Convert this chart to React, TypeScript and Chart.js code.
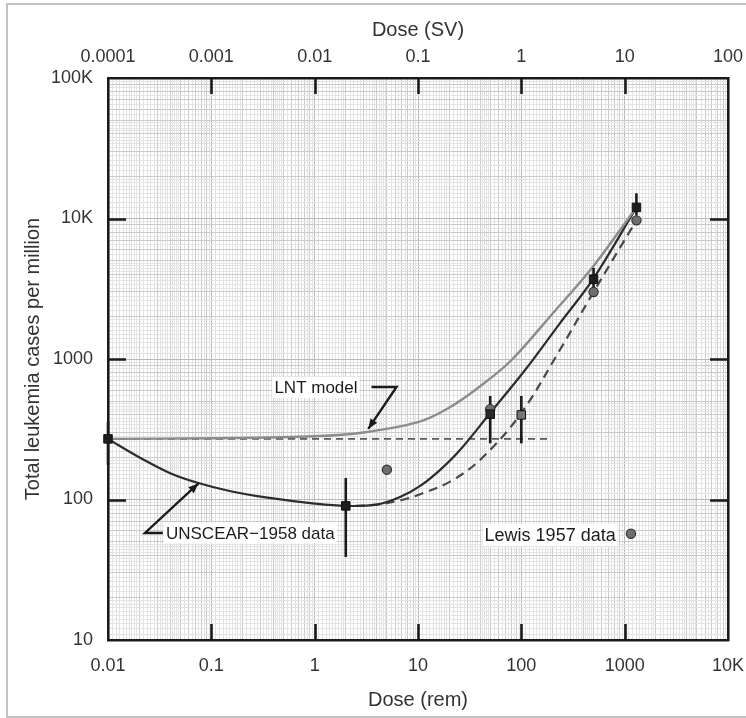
import React, { useEffect, useRef } from "react";
import { Chart, registerables } from "chart.js";

Chart.register(...registerables);

// ---------- data ----------
const lntX = [0.01, 0.1, 1, 3, 10, 20, 40, 80, 200, 500, 1300];
const lntY = [270, 273, 282, 300, 355, 450, 640, 980, 2100, 4600, 12000];

const fitX = [0.01, 0.02, 0.04, 0.075, 0.15, 0.35, 1, 2, 4, 6.7, 10.5, 16.3, 25.5, 50, 108.7, 236, 500, 1300];
const fitY = [270, 200, 154, 131, 115, 103, 93.5, 90, 92, 104, 125, 162, 225, 413, 835, 1795, 3750, 12000];

const dashX = [2.5, 4, 6.7, 10.5, 20.4, 39.8, 97, 236, 500, 1300];
const dashY = [90, 92, 98.4, 109, 134, 191, 400, 1160, 3000, 9700];

const baseX = [0.01, 185];
const baseY = [270, 270];

const sqX = [0.01, 2, 50, 100, 500, 1300];
const sqY = [270, 90, 405, 400, 3700, 12000];
const sqLow = [176, 39, 251, 251, 3200, 10500];
const sqHigh = [358, 142, 546, 546, 4450, 15100];
const sqColor = ["#1e1e1e", "#1e1e1e", "#2a2a2a", "#777777", "#1e1e1e", "#1e1e1e"];

const circX = [5, 50, 500, 1300, 1150];
const circY = [163, 440, 3000, 9700, 57];

const xTickValues = [0.01, 0.1, 1, 10, 100, 1000, 10000];
const xTickLabels = ["0.01", "0.1", "1", "10", "100", "1000", "10K"];
const x2TickValues = [0.0001, 0.001, 0.01, 0.1, 1, 10, 100];
const x2TickLabels = ["0.0001", "0.001", "0.01", "0.1", "1", "10", "100"];
const yTickValues = [10, 100, 1000, 10000, 100000];
const yTickLabels = ["10", "100", "1000", "10K", "100K"];

const labelLNT = { text: "LNT model", x: 2.6, y: 628 };
const arrowLNT = [[3.55, 632], [6.2, 632], [3.3, 318]];
const labelUNS = { text: "UNSCEAR\u22121958 data", x: 0.0364, y: 57.8 };
const arrowUNS = [[0.034, 57.8], [0.0228, 57.8], [0.075, 130]];
const labelLewis = { text: "Lewis 1957 data", x: 190, y: 56 };

// ---------- helpers ----------
const FONT = "'Liberation Sans', Arial, Helvetica, sans-serif";
const mantissas: number[] = [];
for (let i = 10; i < 20; i++) mantissas.push(i / 10);
for (let i = 20; i < 50; i += 2) mantissas.push(i / 10);
for (let i = 50; i < 100; i += 5) mantissas.push(i / 10);

function gridValues(minExp: number, maxExp: number) {
  const out: number[] = [];
  for (let e = minExp; e < maxExp; e++) {
    for (const m of mantissas) out.push(+(m * Math.pow(10, e)).toPrecision(6));
  }
  out.push(Math.pow(10, maxExp));
  return out;
}
function mant(v: number) {
  const e = Math.floor(Math.log10(v) + 1e-9);
  return v / Math.pow(10, e);
}
function gridColor(ctx: any) {
  const v = ctx.tick && ctx.tick.value;
  if (!v) return "#e0e0e0";
  const m = mant(v);
  if (Math.abs(m - 1) < 1e-6 || Math.abs(m - 10) < 1e-6) return "#b8b8b8";
  if (Math.abs(m - Math.round(m)) < 1e-6) return "#cbcbcb";
  return "#e3e3e3";
}
function labelFor(values: number[], labels: string[]) {
  return (v: any) => {
    const i = values.findIndex((t) => Math.abs(t - v) / t < 1e-6);
    return i >= 0 ? labels[i] : "";
  };
}
const pts = (xs: number[], ys: number[]) => xs.map((x, i) => ({ x, y: ys[i] }));

function arrow(ctx: CanvasRenderingContext2D, path: number[][], xs: any, ys: any) {
  const p = path.map(([x, y]) => [xs.getPixelForValue(x), ys.getPixelForValue(y)]);
  ctx.save();
  ctx.strokeStyle = "#1a1a1a";
  ctx.fillStyle = "#1a1a1a";
  ctx.lineWidth = 2.4;
  ctx.beginPath();
  ctx.moveTo(p[0][0], p[0][1]);
  for (let i = 1; i < p.length; i++) ctx.lineTo(p[i][0], p[i][1]);
  ctx.stroke();
  const [tx, ty] = p[p.length - 1];
  const [fx, fy] = p[p.length - 2];
  const a = Math.atan2(ty - fy, tx - fx);
  const L = 10, W = 4;
  ctx.beginPath();
  ctx.moveTo(tx, ty);
  ctx.lineTo(tx - L * Math.cos(a) + W * Math.sin(a), ty - L * Math.sin(a) - W * Math.cos(a));
  ctx.lineTo(tx - L * Math.cos(a) - W * Math.sin(a), ty - L * Math.sin(a) + W * Math.cos(a));
  ctx.closePath();
  ctx.fill();
  ctx.restore();
}
function label(ctx: CanvasRenderingContext2D, l: any, align: CanvasTextAlign, size: number, xs: any, ys: any) {
  const px = xs.getPixelForValue(l.x);
  const py = ys.getPixelForValue(l.y);
  ctx.save();
  ctx.font = `${size}px ${FONT}`;
  const w = ctx.measureText(l.text).width;
  let left = px;
  if (align === "right") left = px - w;
  if (align === "center") left = px - w / 2;
  ctx.fillStyle = "#ffffff";
  ctx.fillRect(left - 2, py - size * 0.62, w + 4, size * 1.24);
  ctx.fillStyle = "#1c1c1c";
  ctx.textAlign = "left";
  ctx.textBaseline = "middle";
  ctx.fillText(l.text, left, py + 1);
  ctx.restore();
}

const overlay = {
  id: "overlay",
  afterDatasetDraw(chart: any, args: any) {
    if (args.index !== 2) return;
    const { ctx } = chart;
    const xs = chart.scales.x, ys = chart.scales.y;
    ctx.save();
    ctx.strokeStyle = "#1a1a1a";
    ctx.lineWidth = 2.6;
    sqX.forEach((x, i) => {
      const px = xs.getPixelForValue(x);
      ctx.beginPath();
      ctx.moveTo(px, ys.getPixelForValue(sqLow[i]));
      ctx.lineTo(px, ys.getPixelForValue(sqHigh[i]));
      ctx.stroke();
    });
    ctx.restore();
  },
  afterDraw(chart: any) {
    const { ctx, chartArea: a } = chart;
    const xs = chart.scales.x, ys = chart.scales.y;
    ctx.save();
    ctx.strokeStyle = "#1a1a1a";
    ctx.lineWidth = 2.6;
    xTickValues.slice(1, -1).forEach((v) => {
      const px = Math.round(xs.getPixelForValue(v)) + 0.5;
      ctx.beginPath();
      ctx.moveTo(px, a.bottom);
      ctx.lineTo(px, a.bottom - 16);
      ctx.moveTo(px, a.top);
      ctx.lineTo(px, a.top + 16);
      ctx.stroke();
    });
    yTickValues.slice(1, -1).forEach((v) => {
      const py = Math.round(ys.getPixelForValue(v)) + 0.5;
      ctx.beginPath();
      ctx.moveTo(a.left, py);
      ctx.lineTo(a.left + 18, py);
      ctx.moveTo(a.right, py);
      ctx.lineTo(a.right - 18, py);
      ctx.stroke();
    });
    ctx.restore();
    label(ctx, labelLNT, "right", 17, xs, ys);
    arrow(ctx, arrowLNT, xs, ys);
    label(ctx, labelUNS, "left", 17, xs, ys);
    arrow(ctx, arrowUNS, xs, ys);
    label(ctx, labelLewis, "center", 18, xs, ys);
  },
};

const noPadX = (h: number) => (s: any) => {
  s.height = h;
  s.paddingLeft = 0;
  s.paddingRight = 0;
};

export default function App() {
  const ref = useRef<HTMLCanvasElement | null>(null);
  useEffect(() => {
    if (!ref.current) return;
    const tickFont = { family: FONT, size: 18 };
    const titleFont = { family: FONT, size: 20 };
    const chart = new Chart(ref.current, {
      type: "line",
      data: {
        datasets: [
          {
            label: "squares",
            data: pts(sqX, sqY),
            showLine: false,
            clip: false,
            pointStyle: "rect",
            pointRadius: 6,
            pointBackgroundColor: sqColor,
            pointBorderColor: "#111",
            pointBorderWidth: 1,
          },
          {
            label: "circles",
            data: pts(circX, circY),
            showLine: false,
            pointStyle: "circle",
            pointRadius: 4.6,
            pointBackgroundColor: "#6e6e6e",
            pointBorderColor: "#333",
            pointBorderWidth: 1.2,
          },
          {
            label: "LNT model",
            data: pts(lntX, lntY),
            borderColor: "#8c8c8c",
            borderWidth: 2.4,
            pointRadius: 0,
            tension: 0.35,
          },
          {
            label: "UNSCEAR fit",
            data: pts(fitX, fitY),
            borderColor: "#2c2c2c",
            borderWidth: 2.2,
            pointRadius: 0,
            tension: 0.35,
          },
          {
            label: "dashed fit",
            data: pts(dashX, dashY),
            borderColor: "#4a4a4a",
            borderWidth: 2.2,
            borderDash: [9, 6],
            pointRadius: 0,
            tension: 0.35,
          },
          {
            label: "baseline",
            data: pts(baseX, baseY),
            borderColor: "#5a5a5a",
            borderWidth: 1.6,
            borderDash: [7, 5],
            pointRadius: 0,
          },
        ],
      },
      options: {
        animation: false,
        responsive: false,
        events: [],
        layout: { padding: 0 },
        plugins: { legend: { display: false }, tooltip: { enabled: false } },
        scales: {
          x: {
            type: "logarithmic",
            position: "bottom",
            min: 0.01,
            max: 10000,
            afterBuildTicks: (s: any) => {
              s.ticks = gridValues(-2, 4).map((v) => ({ value: v }));
            },
            afterFit: noPadX(78),
            grid: { color: gridColor, lineWidth: 1, drawTicks: false },
            border: { display: true, color: "#1a1a1a", width: 2.6 },
            ticks: {
              autoSkip: false,
              maxRotation: 0,
              padding: 15,
              color: "#333",
              font: tickFont,
              callback: labelFor(xTickValues, xTickLabels),
            },
            title: {
              display: true,
              text: "Dose (rem)",
              color: "#333",
              font: titleFont,
              padding: { top: 0, bottom: 6 },
            },
          },
          x2: {
            type: "logarithmic",
            position: "top",
            min: 0.0001,
            max: 100,
            afterBuildTicks: (s: any) => {
              s.ticks = x2TickValues.map((v) => ({ value: v }));
            },
            afterFit: noPadX(78),
            grid: { display: false, drawTicks: false },
            border: { display: true, color: "#1a1a1a", width: 2.6 },
            ticks: {
              autoSkip: false,
              maxRotation: 0,
              padding: 10,
              color: "#333",
              font: tickFont,
              callback: labelFor(x2TickValues, x2TickLabels),
            },
            title: {
              display: true,
              text: "Dose (SV)",
              color: "#333",
              font: titleFont,
              padding: { top: 18, bottom: 0 },
            },
          },
          y: {
            type: "logarithmic",
            position: "left",
            min: 10,
            max: 100000,
            afterBuildTicks: (s: any) => {
              s.ticks = gridValues(1, 5).map((v) => ({ value: v }));
            },
            afterFit: (s: any) => {
              s.width = 108;
              s.paddingTop = 0;
              s.paddingBottom = 0;
            },
            grid: { color: gridColor, lineWidth: 1, drawTicks: false },
            border: { display: true, color: "#1a1a1a", width: 2.6 },
            ticks: {
              autoSkip: false,
              padding: 15,
              color: "#333",
              font: tickFont,
              callback: labelFor(yTickValues, yTickLabels),
            },
            title: {
              display: true,
              text: "Total leukemia cases per million",
              color: "#333",
              font: titleFont,
              padding: { top: 21, bottom: 0 },
            },
          },
          y2: {
            type: "logarithmic",
            position: "right",
            min: 10,
            max: 100000,
            afterFit: (s: any) => {
              s.width = 18;
              s.paddingTop = 0;
              s.paddingBottom = 0;
            },
            grid: { display: false, drawTicks: false },
            border: { display: true, color: "#1a1a1a", width: 2.6 },
            ticks: { display: false },
          },
        },
      } as any,
      plugins: [overlay],
    });
    return () => chart.destroy();
  }, []);

  return (
    <div style={{ position: "absolute", left: 0, top: 0, width: 746, height: 718, background: "#fff" }}>
      <div
        style={{
          position: "absolute",
          left: 6,
          top: 3,
          width: 740,
          height: 715,
          border: "2px solid #c2c2c2",
          borderRight: "none",
          boxSizing: "border-box",
        }}
      />
      <canvas ref={ref} width={746} height={718} style={{ position: "absolute", left: 0, top: 0 }} />
    </div>
  );
}
